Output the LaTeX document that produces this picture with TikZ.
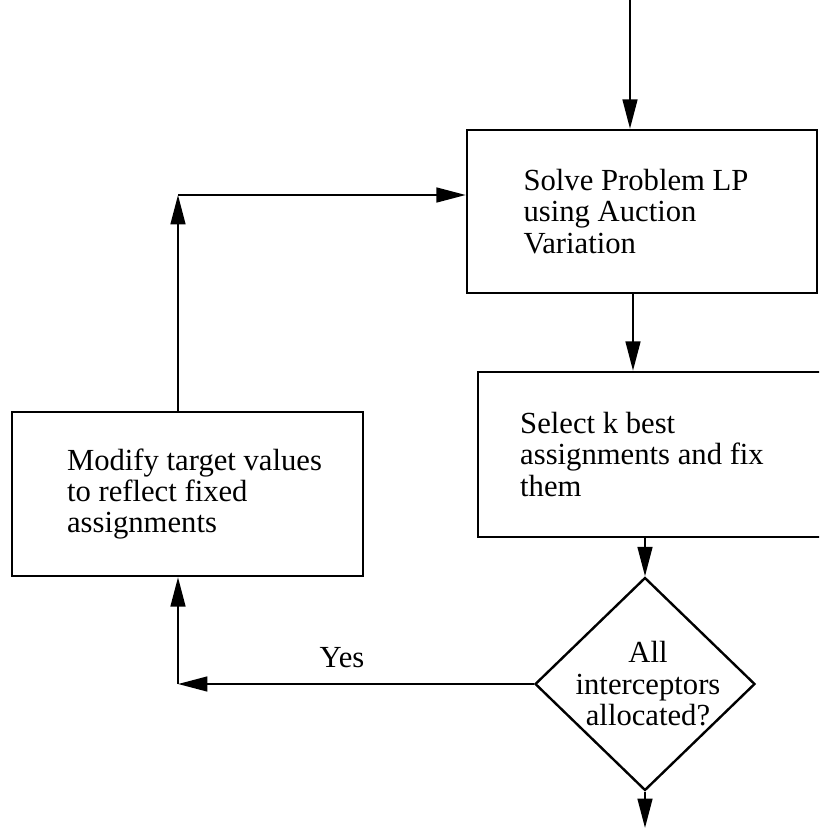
\documentclass[tikz,border=0pt]{standalone}
\usepackage{fontspec}
\setmainfont{Liberation Serif}
\usetikzlibrary{arrows.meta,shapes.geometric}
\tikzset{
  box/.style={draw, line width=1.8pt, rectangle, inner sep=0pt},
  dia/.style={draw, line width=1.8pt, diamond, inner sep=0pt},
  txt/.style={font=\fontsize{23}{23.6}\selectfont, align=left, inner sep=0pt},
  txtc/.style={font=\fontsize{23}{23.6}\selectfont, align=center, inner sep=0pt},
  arr/.style={line width=1.8pt, -{Triangle[length=22pt,width=11pt]}},
}
\begin{document}
\begin{tikzpicture}[x=0.75pt,y=-0.75pt]
\useasboundingbox (0,0) rectangle (819,828);
\clip (0,0) rectangle (819,828);
% boxes
\node[box, minimum width=262.5pt, minimum height=122.25pt,
      label={[txt,xshift=-4.5pt]center:Solve Problem LP\\using Auction\\Variation}] (b1) at (642,211.5) {};
\node[box, minimum width=264pt, minimum height=123.75pt,
      label={[txt,xshift=-9pt]center:Select k best\\assignments and fix\\them}] (b2) at (654,454.5) {};
\node[box, minimum width=263.25pt, minimum height=123pt,
      label={[txt,xshift=5.25pt]center:Modify target values\\to reflect fixed\\assignments}] (b3) at (187.5,494) {};
\node[dia, minimum width=165pt, minimum height=159.75pt,
      label={[txtc,xshift=2.25pt]center:All\\interceptors\\allocated?}] (d) at (645,684) {};
\node[txt, anchor=base] (yes) at (342,667) {Yes};
% coordinates
\coordinate (start) at (630,0);
\coordinate (end) at (643,828);
\coordinate (c1) at (178,684);
\coordinate (c2) at (178,195);
% connectors
\draw[arr] (start) -- (start |- b1.north);
\draw[arr] ([xshift=-6.75pt]b1.south) -- ([xshift=-6.75pt]b1.south |- b2.north);
\draw[arr] (b2.south -| d.north) -- (d.north);
\draw[arr] (d.south) -- (d.south |- end);
\draw[arr] (d.west) -- (c1);
\draw[arr] (c1) -- (c1 |- b3.south);
\draw[arr] (c2 |- b3.north) -- (c2);
\draw[arr] (c2) -- (c2 -| b1.west);
\end{tikzpicture}
\end{document}
